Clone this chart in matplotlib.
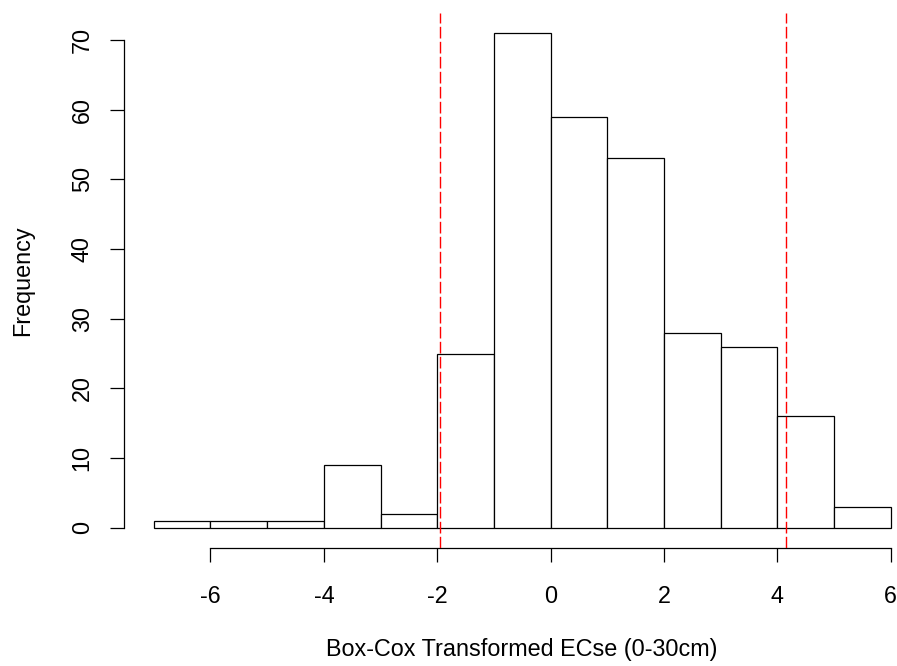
import numpy as np
import matplotlib
matplotlib.use("Agg")
import matplotlib.pyplot as plt

# Data
bin_edges = [-7, -6, -5, -4, -3, -2, -1, 0, 1, 2, 3, 4, 5, 6]
counts = [1, 1, 1, 9, 2, 25, 71, 59, 53, 28, 26, 16, 3]
vlines = [-1.95, 4.15]
xticks = [-6, -4, -2, 0, 2, 4, 6]
yticks = [0, 10, 20, 30, 40, 50, 60, 70]
xlabel = "Box-Cox Transformed ECse (0-30cm)"
ylabel = "Frequency"

plt.rcParams['font.family'] = ['Liberation Sans', 'DejaVu Sans']
plt.rcParams['lines.scale_dashes'] = False

W, H = 897, 666
fig = plt.figure(figsize=(W / 100, H / 100), dpi=100)
left = 124.3 / W
right = 920.2 / W
bottom = 1 - 547.5 / H
top = 1 - 13.3 / H
ax = fig.add_axes([left, bottom, right - left, top - bottom])

edges = np.array(bin_edges, dtype=float)
ax.bar(edges[:-1], counts, width=np.diff(edges), align='edge',
       facecolor='white', edgecolor='black', linewidth=0.9, zorder=2)

for v in vlines:
    ax.axvline(v, color='#ff0000', linewidth=1.0, dashes=(8.4, 2.4), zorder=3)

ax.set_xlim(-7.52, 6.52)
ax.set_ylim(-2.84, 73.84)

for s in ['top', 'right']:
    ax.spines[s].set_visible(False)
ax.spines['left'].set_bounds(0, 70)
ax.spines['bottom'].set_bounds(-6, 6)
for s in ['left', 'bottom']:
    ax.spines[s].set_linewidth(0.9)

fs = 16.8
ax.set_xticks(xticks)
ax.set_xticklabels([str(t) for t in xticks])
ax.set_yticks(yticks)
ax.set_yticklabels([str(t) for t in yticks], rotation=90, va='center')

ax.tick_params(axis='both', direction='out', length=10, width=0.9,
               labelsize=fs, colors='black')
ax.tick_params(axis='x', pad=17)
ax.tick_params(axis='y', pad=12)

ax.set_xlabel(xlabel, fontsize=fs)
ax.set_ylabel(ylabel, fontsize=fs)
ax.xaxis.set_label_coords(0.5, -0.170)
ax.yaxis.set_label_coords(-0.1135, 0.5)

fig.savefig("out.png", dpi=100)
